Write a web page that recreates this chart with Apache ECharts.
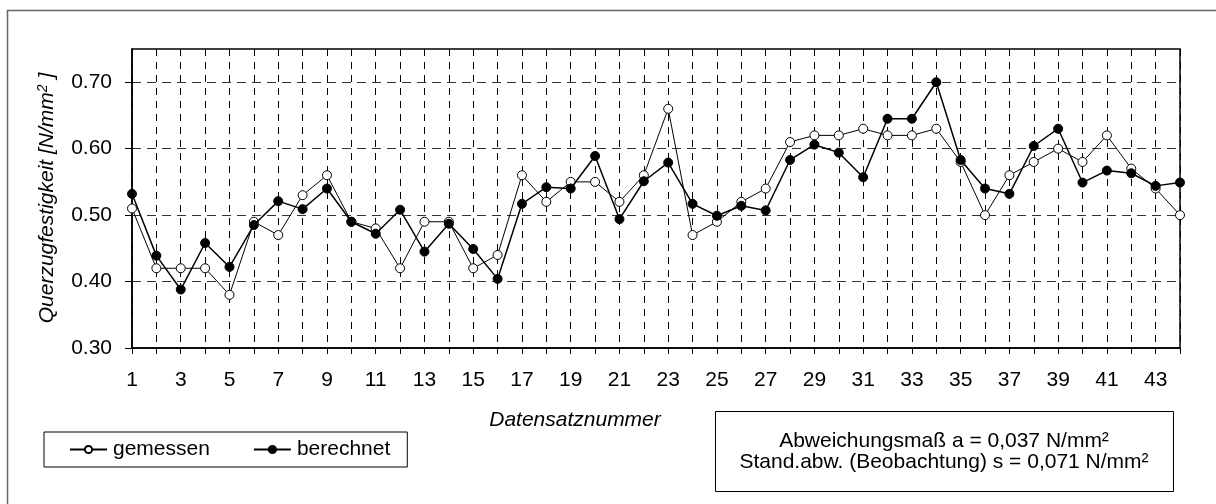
<!DOCTYPE html>
<html>
<head>
<meta charset="utf-8">
<script src="https://cdn.jsdelivr.net/npm/echarts@6/dist/echarts.min.js"></script>
<style>
  html, body { margin: 0; padding: 0; background: #fff; }
  #chart { width: 1216px; height: 504px; }
</style>
</head>
<body>
<div id="chart"></div>
<script>
// Datensatznummer 1..44
var categories = [];
for (var i = 1; i <= 44; i++) categories.push(String(i));

// Querzugfestigkeit [N/mm2]
var gemessen = [0.51, 0.42, 0.42, 0.42, 0.38, 0.49, 0.47, 0.53, 0.56, 0.49,
  0.48, 0.42, 0.49, 0.49, 0.42, 0.44, 0.56, 0.52, 0.55, 0.55,
  0.52, 0.56, 0.66, 0.47, 0.49, 0.52, 0.54, 0.61, 0.62, 0.62,
  0.63, 0.62, 0.62, 0.63, 0.58, 0.50, 0.56, 0.58, 0.60, 0.58,
  0.62, 0.57, 0.54, 0.50];
var berechnet = [0.532, 0.439, 0.388, 0.458, 0.422, 0.485, 0.521, 0.509, 0.540, 0.490,
  0.472, 0.508, 0.445, 0.487, 0.449, 0.404, 0.517, 0.542, 0.540, 0.589,
  0.494, 0.551, 0.579, 0.517, 0.499, 0.514, 0.507, 0.583, 0.606, 0.594,
  0.557, 0.645, 0.645, 0.700, 0.583, 0.540, 0.532, 0.604, 0.630, 0.549,
  0.567, 0.563, 0.544, 0.549];

// y tick labels
var yTicks = [0.3, 0.4, 0.5, 0.6, 0.7];

var statLines = [
  'Abweichungsmaß a = 0,037 N/mm²',
  'Stand.abw. (Beobachtung) s = 0,071 N/mm²'
];

var font = '"Liberation Sans", Arial, sans-serif';
var chart = echarts.init(document.getElementById('chart'));

var option = {
  animation: false,
  backgroundColor: '#fff',
  textStyle: { fontFamily: font, color: '#000' },
  grid: {
    left: 132,
    top: 49,
    width: 1048,
    height: 299,
    show: true,
    borderColor: '#000',
    borderWidth: 1.5,
    backgroundColor: 'transparent'
  },
  legend: {
    data: ['gemessen', 'berechnet'],
    left: 44,
    top: 432,
    orient: 'horizontal',
    padding: [7, 17, 7, 25],
    itemGap: 43,
    itemWidth: 37,
    itemHeight: 9,
    borderColor: '#000',
    borderWidth: 1,
    textStyle: { fontFamily: font, fontSize: 21, color: '#000', padding: [0, 0, 0, 1] }
  },
  xAxis: {
    type: 'category',
    data: categories,
    boundaryGap: false,
    axisLine: { lineStyle: { color: '#000', width: 1.5 } },
    axisTick: { show: true, interval: 0, length: 6, lineStyle: { color: '#000' } },
    axisLabel: { interval: 1, margin: 22, fontSize: 21, color: '#000', fontFamily: font },
    splitLine: {
      show: true,
      interval: 0,
      lineStyle: { color: '#000', width: 1, type: [7, 6] }
    }
  },
  yAxis: {
    type: 'value',
    min: 0.3,
    max: 0.75,
    interval: 0.1,
    axisLine: { show: true, lineStyle: { color: '#000', width: 1.5 } },
    axisTick: { show: true, length: 7, customValues: yTicks, lineStyle: { color: '#000' } },
    axisLabel: {
      margin: 20,
      fontSize: 21,
      color: '#000',
      fontFamily: font,
      customValues: yTicks,
      formatter: function (v) {
        return v.toFixed(2);
      }
    },
    splitLine: {
      show: true,
      lineStyle: { color: '#333', width: 1, type: [9, 6] }
    }
  },
  series: [
    {
      name: 'gemessen',
      type: 'line',
      data: gemessen,
      symbol: 'circle',
      symbolSize: 9,
      showAllSymbol: true,
      lineStyle: { color: '#000', width: 1 },
      itemStyle: { color: '#fff', borderColor: '#000', borderWidth: 1 },
      z: 2
    },
    {
      name: 'berechnet',
      type: 'line',
      data: berechnet,
      symbol: 'circle',
      symbolSize: 9,
      showAllSymbol: true,
      lineStyle: { color: '#000', width: 1.5 },
      itemStyle: { color: '#000', borderColor: '#000', borderWidth: 1 },
      z: 3
    }
  ],
  graphic: [
    {
      type: 'rect',
      silent: true,
      shape: { x: 7.5, y: 10.5, width: 1400, height: 700 },
      style: { fill: 'none', stroke: '#666', lineWidth: 1.5 },
      z: -10
    },
    {
      type: 'text',
      silent: true,
      x: 47,
      y: 198,
      rotation: Math.PI / 2,
      style: {
        text: '{a|Querzugfestigkeit [N/mm}{s|2}{a| ]}',
        align: 'center',
        verticalAlign: 'middle',
        rich: {
          a: { fontFamily: font, fontSize: 21, fontStyle: 'italic', fill: '#000' },
          s: { fontFamily: font, fontSize: 14, fontStyle: 'italic', fill: '#000', verticalAlign: 'top', padding: [0, 0, 8, 0] }
        }
      }
    },
    {
      type: 'text',
      silent: true,
      x: 575,
      y: 420,
      style: {
        text: 'Datensatznummer',
        fontFamily: font,
        fontSize: 21,
        fontStyle: 'italic',
        fill: '#000',
        align: 'center',
        verticalAlign: 'middle'
      }
    },
    {
      type: 'rect',
      silent: true,
      shape: { x: 715.5, y: 411.5, width: 458, height: 80 },
      style: { fill: '#fff', stroke: '#000', lineWidth: 1 }
    },
    {
      type: 'text',
      silent: true,
      x: 944,
      y: 452,
      style: {
        text: statLines.join('\n'),
        fontFamily: font,
        fontSize: 21,
        lineHeight: 21,
        fill: '#000',
        align: 'center',
        verticalAlign: 'middle'
      }
    }
  ]
};

chart.setOption(option);
</script>
</body>
</html>
